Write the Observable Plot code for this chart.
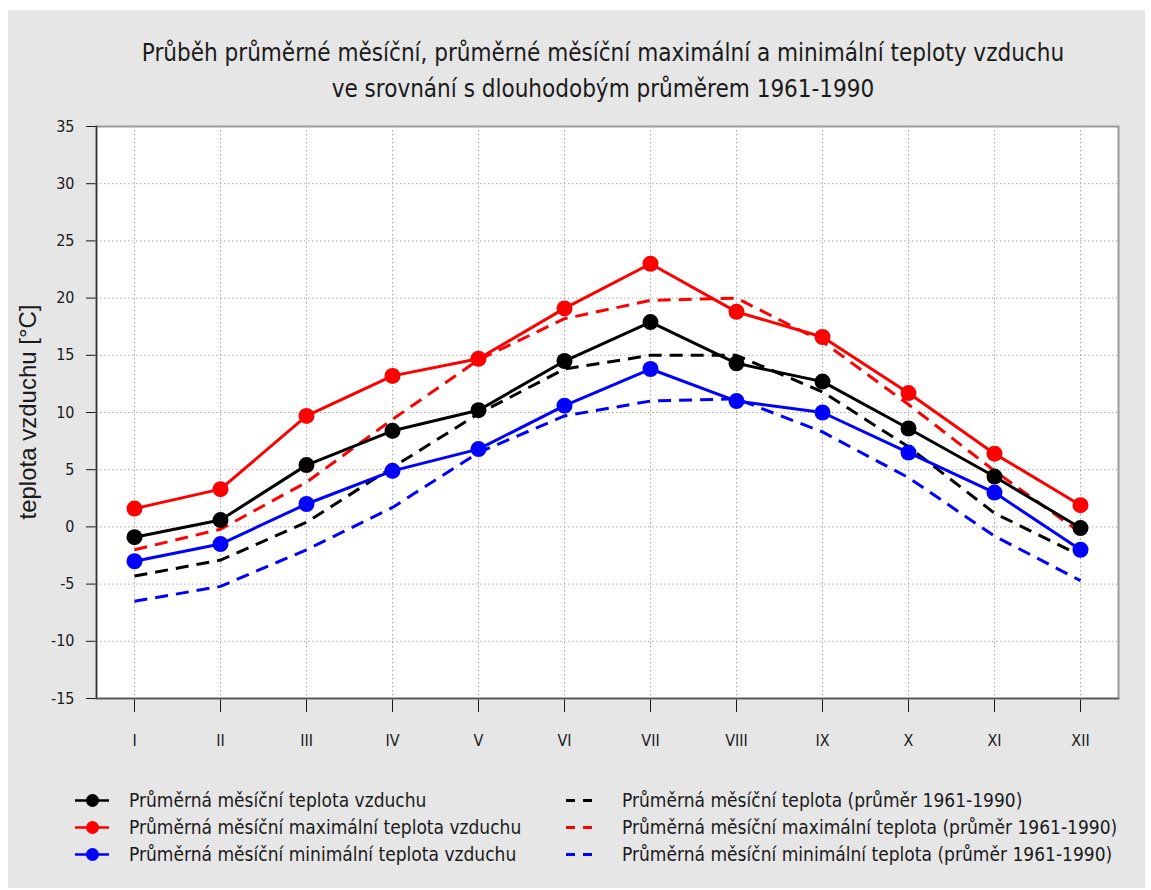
<!DOCTYPE html>
<html>
<head>
<meta charset="utf-8">
<script src="https://cdn.jsdelivr.net/npm/d3@7"></script>
<script src="https://cdn.jsdelivr.net/npm/@observablehq/plot@0.6"></script>
<style>
  html, body { margin: 0; padding: 0; background: #ffffff; }
  body { width: 1151px; height: 890px; position: relative; overflow: hidden;
         font-family: "Liberation Sans Narrow", "Arial Narrow", "DejaVu Sans Condensed", sans-serif; }
  #bg { position: absolute; left: 8px; top: 10px; width: 1137px; height: 878px; background: #e6e6e6; }
  #title { position: absolute; left: 0; top: 35px; width: 1206px; text-align: center;
           font-size: 24px; line-height: 36px; color: #1a1a1a; }
  #chart { position: absolute; left: 0; top: 110px; }
  #ylab { position: absolute; left: 28px; top: 412px; transform: translate(-50%, -50%) rotate(-90deg);
          font-family: "Liberation Sans", Arial, sans-serif; font-size: 24px; color: #1a1a1a; white-space: nowrap; }
  .leg { position: absolute; font-size: 19px; color: #1a1a1a; white-space: nowrap; height: 27px; line-height: 27px; }
  .leg svg { position: absolute; top: 0; }
  .leg span { position: absolute; top: 0; }
</style>
</head>
<body>
<div id="bg"></div>
<div id="title">Průběh průměrné měsíční, průměrné měsíční maximální a minimální teploty vzduchu<br>ve srovnání s dlouhodobým průměrem 1961-1990</div>
<div id="chart"></div>
<div id="ylab">teplota vzduchu [°C]</div>
<div id="legend"></div>
<script>
// ---- data ----
const months = ["I","II","III","IV","V","VI","VII","VIII","IX","X","XI","XII"];
const meanT  = [-0.9, 0.6, 5.4, 8.4, 10.2, 14.5, 17.9, 14.3, 12.7, 8.6, 4.4, -0.1];
const maxT   = [1.6, 3.3, 9.7, 13.2, 14.7, 19.1, 23.0, 18.8, 16.6, 11.7, 6.4, 1.9];
const minT   = [-3.0, -1.5, 2.0, 4.9, 6.8, 10.6, 13.8, 11.0, 10.0, 6.5, 3.0, -2.0];
const meanN  = [-4.3, -2.9, 0.4, 5.2, 9.9, 13.8, 15.0, 15.0, 11.8, 7.0, 1.2, -2.5];
const maxN   = [-2.0, -0.2, 3.9, 9.4, 14.6, 18.2, 19.8, 20.0, 16.2, 10.7, 4.9, -0.5];
const minN   = [-6.5, -5.2, -2.0, 1.7, 6.5, 9.7, 11.0, 11.2, 8.3, 4.3, -0.8, -4.7];
const yTicks = [-15, -10, -5, 0, 5, 10, 15, 20, 25, 30, 35];

const solidSeries = [
  {name: "Průměrná měsíční teplota vzduchu", values: meanT, color: "#000000"},
  {name: "Průměrná měsíční maximální teplota vzduchu", values: maxT, color: "#ff0000"},
  {name: "Průměrná měsíční minimální teplota vzduchu", values: minT, color: "#0000ff"}
];
const dashedSeries = [
  {name: "Průměrná měsíční teplota (průměr 1961-1990)", values: meanN, color: "#000000"},
  {name: "Průměrná měsíční maximální teplota (průměr 1961-1990)", values: maxN, color: "#ff0000"},
  {name: "Průměrná měsíční minimální teplota (průměr 1961-1990)", values: minN, color: "#0000ff"}
];

const toRows = s => months.map((m, i) => ({month: m, value: s.values[i], series: s.name}));

const marks = [
  Plot.frame({fill: "white", stroke: "#9a9a9a", strokeWidth: 2}),
  Plot.ruleY(yTicks.slice(1, -1), {stroke: "#a8a8a8", strokeDasharray: "1.5,2.5", strokeWidth: 1}),
  Plot.ruleX(months, {stroke: "#a8a8a8", strokeDasharray: "1.5,2.5", strokeWidth: 1}),
  Plot.frame({anchor: "left", stroke: "#333", strokeWidth: 1.5}),
  Plot.frame({anchor: "bottom", stroke: "#555", strokeWidth: 1.5})
];
for (const s of dashedSeries) {
  marks.push(Plot.line(toRows(s), {x: "month", y: "value", stroke: s.color, strokeWidth: 3,
    strokeDasharray: "13,8", strokeLinecap: "butt"}));
}
for (const s of solidSeries) {
  const rows = toRows(s);
  marks.push(Plot.line(rows, {x: "month", y: "value", stroke: s.color, strokeWidth: 3}));
  marks.push(Plot.dot(rows, {x: "month", y: "value", fill: s.color, r: 8}));
}

const chart = Plot.plot({
  width: 1151,
  height: 650,
  marginLeft: 96,
  marginRight: 33,
  marginTop: 16,
  marginBottom: 62,
  style: {background: "transparent", fontSize: "16px", color: "#1a1a1a",
          fontFamily: "'Liberation Sans Narrow', 'Arial Narrow', 'DejaVu Sans Condensed', sans-serif"},
  x: {type: "point", domain: months, padding: 0.417, label: null, tickSize: 14, tickPadding: 22},
  y: {domain: [-15, 35], ticks: yTicks, tickFormat: d => String(d), label: null, tickSize: 10, tickPadding: 12},
  marks
});
document.getElementById("chart").appendChild(chart);

// ---- legend ----
const legend = document.getElementById("legend");
const rowsY = [787, 814, 841];
function addItem(s, i, left, textLeft, dashed) {
  const d = document.createElement("div");
  d.className = "leg";
  d.style.left = left + "px";
  d.style.top = rowsY[i] + "px";
  const ns = "http://www.w3.org/2000/svg";
  const svg = document.createElementNS(ns, "svg");
  svg.setAttribute("width", 40); svg.setAttribute("height", 27);
  svg.style.left = "0px";
  const ln = document.createElementNS(ns, "line");
  if (dashed) {
    ln.setAttribute("x1", 0); ln.setAttribute("x2", 26);
    ln.setAttribute("stroke-dasharray", "9,8");
  } else {
    ln.setAttribute("x1", 0); ln.setAttribute("x2", 34);
  }
  ln.setAttribute("y1", 13.5); ln.setAttribute("y2", 13.5);
  ln.setAttribute("stroke", s.color); ln.setAttribute("stroke-width", dashed ? 3 : 2.5);
  svg.appendChild(ln);
  if (!dashed) {
    const c = document.createElementNS(ns, "circle");
    c.setAttribute("cx", 17.5); c.setAttribute("cy", 13.5); c.setAttribute("r", 6.5);
    c.setAttribute("fill", s.color);
    svg.appendChild(c);
  }
  d.appendChild(svg);
  const t = document.createElement("span");
  t.style.left = (textLeft - left) + "px";
  t.textContent = s.name;
  d.appendChild(t);
  legend.appendChild(d);
}
solidSeries.forEach((s, i) => addItem(s, i, 75, 129, false));
dashedSeries.forEach((s, i) => addItem(s, i, 566, 622, true));
</script>
</body>
</html>
